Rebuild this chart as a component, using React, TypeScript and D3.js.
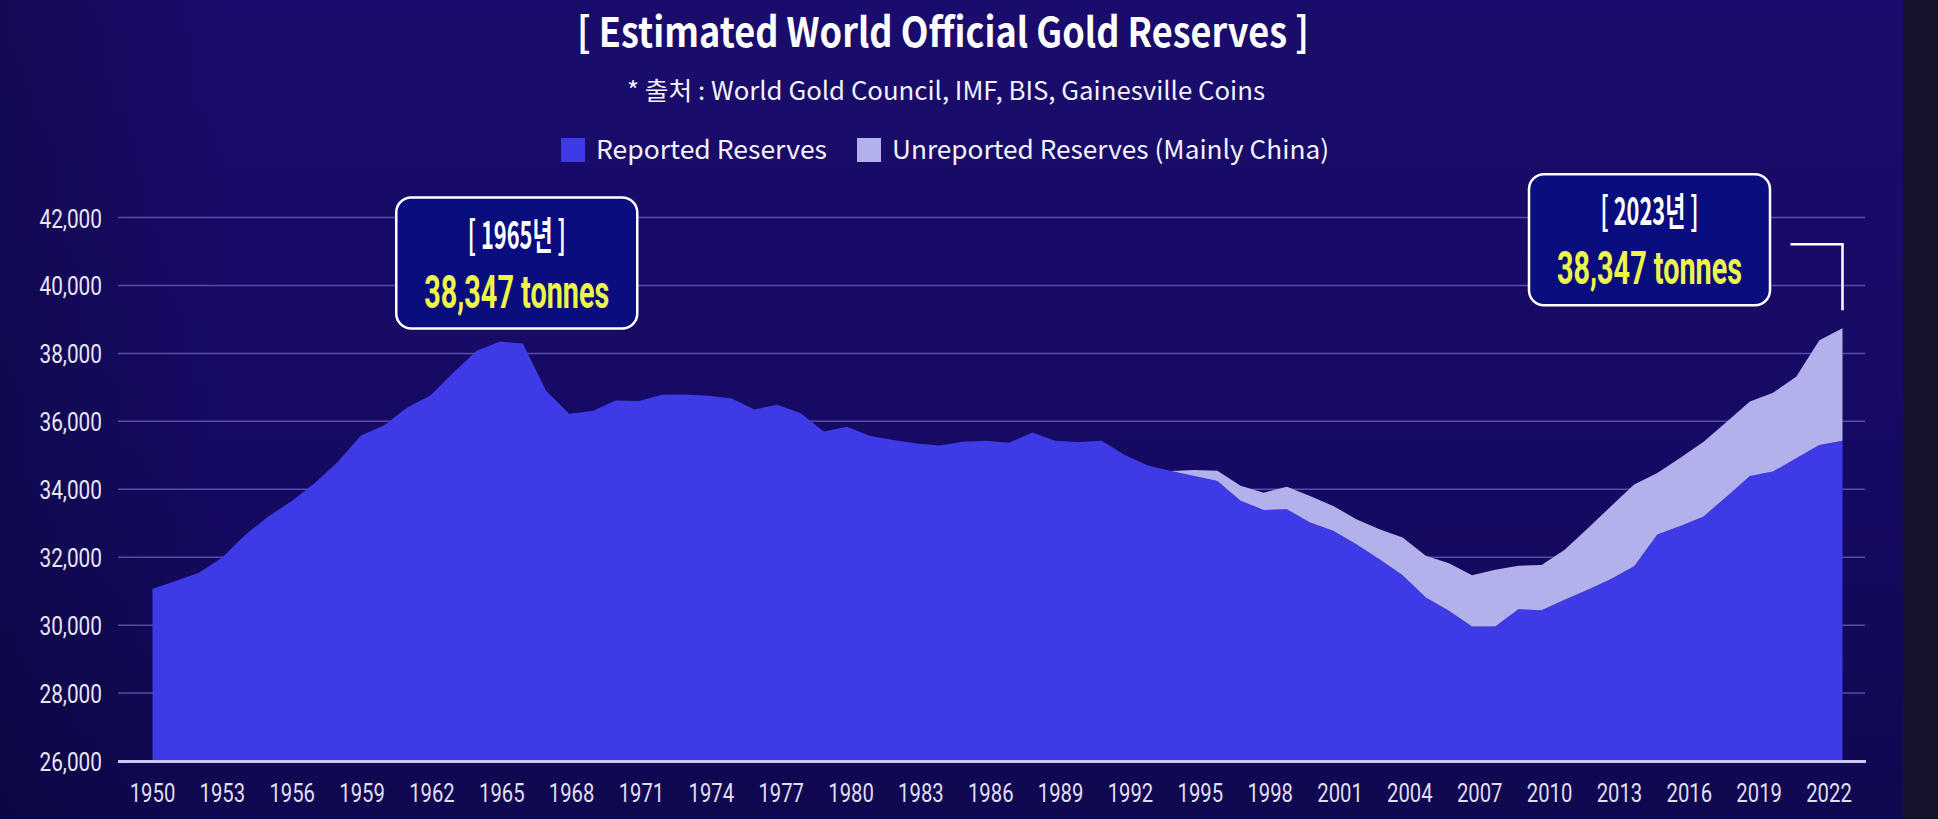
import * as d3 from "d3";
import React from "react";

// years on the x axis, one point per year
const years = d3.range(1950, 2024);

// reported official reserves (tonnes)
const reported = [
  31070, 31300, 31540, 31980, 32650, 33200, 33650, 34180, 34800, 35580,
  35880, 36410, 36760, 37440, 38080, 38347, 38290, 36900, 36220, 36300,
  36610, 36600, 36780, 36790, 36750, 36680, 36350, 36490, 36240, 35700,
  35840, 35570, 35450, 35350, 35290, 35400, 35430, 35370, 35670, 35430,
  35390, 35430, 35010, 34700, 34540, 34390, 34245, 33660, 33390, 33410,
  33020, 32780, 32380, 31940, 31470, 30810, 30420, 29960, 29960, 30470,
  30440, 30750, 31040, 31360, 31730, 32670, 32920, 33200, 33790, 34390,
  34520, 34910, 35300, 35430,
];

// unreported reserves (mainly China), stacked on top
const unreported = [
  0, 0, 0, 0, 0, 0, 0, 0, 0, 0,
  0, 0, 0, 0, 0, 0, 0, 0, 0, 0,
  0, 0, 0, 0, 0, 0, 0, 0, 0, 0,
  0, 0, 0, 0, 0, 0, 0, 0, 0, 0,
  0, 0, 0, 0, 0, 180, 300, 440, 510, 660,
  780, 730, 740, 880, 1110, 1230, 1400, 1510, 1670, 1280,
  1330, 1470, 1810, 2140, 2410, 1810, 2010, 2200, 2200, 2190,
  2320, 2400, 3090, 3310,
];

const yTickValues = [26000, 28000, 30000, 32000, 34000, 36000, 38000, 40000, 42000];
const xTickYears = d3.range(1950, 2023, 3);

const seriesKeys = ["reported", "unreported"];
const seriesLabels = ["Reported Reserves", "Unreported Reserves (Mainly China)"];
const seriesColors = ["#3d3ae6", "#b3b1ec"];

const annotations = [
  { year: 1965, value: 38347, label: "[ 1965년 ]", amount: "38,347 tonnes", dx: 17, dy: -144, bracket: false },
  { year: 2023, value: 38740, label: "[ 2023년 ]", amount: "38,347 tonnes", dx: -193, dy: -154, bracket: true },
];

const title = "[ Estimated World Official Gold Reserves ]";
const subtitle = "* 출처 : World Gold Council, IMF, BIS, Gainesville Coins";

const width = 1938;
const height = 819;
const kr = "'Noto Sans CJK KR', 'Noto Sans', sans-serif";

export default function App() {
  const rows = years.map((year, i) => ({
    year,
    reported: reported[i],
    unreported: unreported[i],
  }));
  const stacked = d3.stack<any>().keys(seriesKeys)(rows);

  const x = d3.scaleLinear([1950, 2023], [152.5, 1842.5]);
  // the labels in the source sit on a slightly wider step than the points
  const xLabel = d3.scaleLinear([1950, 2022], [152.5, 1829]);
  const y = d3.scaleLinear([26000, 42000], [761, 217.5]).clamp(true);

  const area = d3
    .area<any>()
    .x((d) => x(d.data.year))
    .y0((d) => y(d[0]))
    .y1((d) => y(d[1]));

  const gridLeft = 118;
  const gridRight = 1866;

  return (
    <svg
      width={width}
      height={height}
      style={{ position: "absolute", left: 0, top: 0, display: "block" }}
    >
      <defs>
        <linearGradient id="bg" x1="0" y1="0" x2="0" y2="1">
          <stop offset="0%" stopColor="#1a0c6c" />
          <stop offset="60%" stopColor="#150a62" />
          <stop offset="100%" stopColor="#0f084f" />
        </linearGradient>
        <linearGradient id="bgSide" x1="0" y1="0" x2="1" y2="0">
          <stop offset="0%" stopColor="#07052e" stopOpacity="0.35" />
          <stop offset="12%" stopColor="#07052e" stopOpacity="0" />
          <stop offset="100%" stopColor="#07052e" stopOpacity="0" />
        </linearGradient>
      </defs>
      <rect width={width} height={height} fill="url(#bg)" />
      <rect width={width} height={height} fill="url(#bgSide)" />
      <rect x={1903} width={width - 1903} height={height} fill="#15122b" />

      {/* title block */}
      <text
        x={943}
        y={47}
        textAnchor="middle"
        fontFamily={kr}
        fontWeight={700}
        fontSize={41}
        fill="#ffffff"
        textLength={732}
        lengthAdjust="spacingAndGlyphs"
      >
        {title}
      </text>
      <text
        x={946}
        y={100}
        textAnchor="middle"
        fontFamily={kr}
        fontSize={25}
        fill="#f2f2f8"
        textLength={638}
        lengthAdjust="spacingAndGlyphs"
      >
        {subtitle}
      </text>

      {/* legend */}
      {seriesLabels.map((label, i) => {
        const lx = i === 0 ? 561 : 857;
        return (
          <g key={label}>
            <rect x={lx} y={138} width={24} height={24} fill={seriesColors[i]} />
            <text
              x={lx + 35}
              y={159}
              fontFamily={kr}
              fontSize={26}
              fill="#f2f2f8"
              textLength={i === 0 ? 231 : 437}
              lengthAdjust="spacingAndGlyphs"
            >
              {label}
            </text>
          </g>
        );
      })}

      {/* gridlines */}
      {yTickValues.slice(1).map((v) => (
        <line
          key={v}
          x1={gridLeft}
          x2={gridRight - 1}
          y1={y(v)}
          y2={y(v)}
          stroke="#8f82e6"
          strokeOpacity={0.55}
          strokeWidth={1.5}
        />
      ))}

      {/* stacked areas */}
      {stacked.map((layer, i) => (
        <path key={layer.key} d={area(layer) ?? ""} fill={seriesColors[i]} />
      ))}

      {/* baseline */}
      <line
        x1={gridLeft}
        x2={gridRight}
        y1={y(26000) + 0.5}
        y2={y(26000) + 0.5}
        stroke="#c9c7f3"
        strokeWidth={3}
      />

      {/* y axis labels */}
      {yTickValues.map((v) => (
        <g key={v} transform={`translate(102,${y(v) + 10}) scale(0.8,1)`}>
          <text
            textAnchor="end"
            fontFamily="Roboto, sans-serif"
            fontSize={26}
            fill="#e8e6f6"
          >
            {d3.format(",")(v)}
          </text>
        </g>
      ))}

      {/* x axis labels */}
      {xTickYears.map((yr) => (
        <g key={yr} transform={`translate(${xLabel(yr)},802) scale(0.78,1)`}>
          <text
            textAnchor="middle"
            fontFamily="Roboto, sans-serif"
            fontSize={26}
            fill="#e0def2"
          >
            {yr}
          </text>
        </g>
      ))}

      {/* annotations */}
      {annotations.map((a) => {
        const ax = x(a.year);
        const ay = y(a.value);
        const cx = ax + a.dx;
        const top = ay + a.dy;
        return (
          <g key={a.year}>
            <rect
              x={cx - 120.5}
              y={top}
              width={241}
              height={131}
              rx={15}
              fill="#0a0d7d"
              stroke="#ffffff"
              strokeWidth={2.5}
            />
            <text
              x={cx}
              y={top + 51}
              textAnchor="middle"
              fontFamily={kr}
              fontWeight={700}
              fontSize={38}
              fill="#ffffff"
              textLength={98}
              lengthAdjust="spacingAndGlyphs"
            >
              {a.label}
            </text>
            <text
              x={cx}
              y={top + 110}
              textAnchor="middle"
              fontFamily="Roboto, sans-serif"
              fontWeight={700}
              fontSize={46}
              fill="#eef54a"
              textLength={185}
              lengthAdjust="spacingAndGlyphs"
            >
              {a.amount}
            </text>
            {a.bracket && (
              <path
                d={`M${ax - 52},${top + 70} H${ax} V${ay - 18}`}
                fill="none"
                stroke="#ffffff"
                strokeWidth={2.5}
              />
            )}
          </g>
        );
      })}
    </svg>
  );
}
